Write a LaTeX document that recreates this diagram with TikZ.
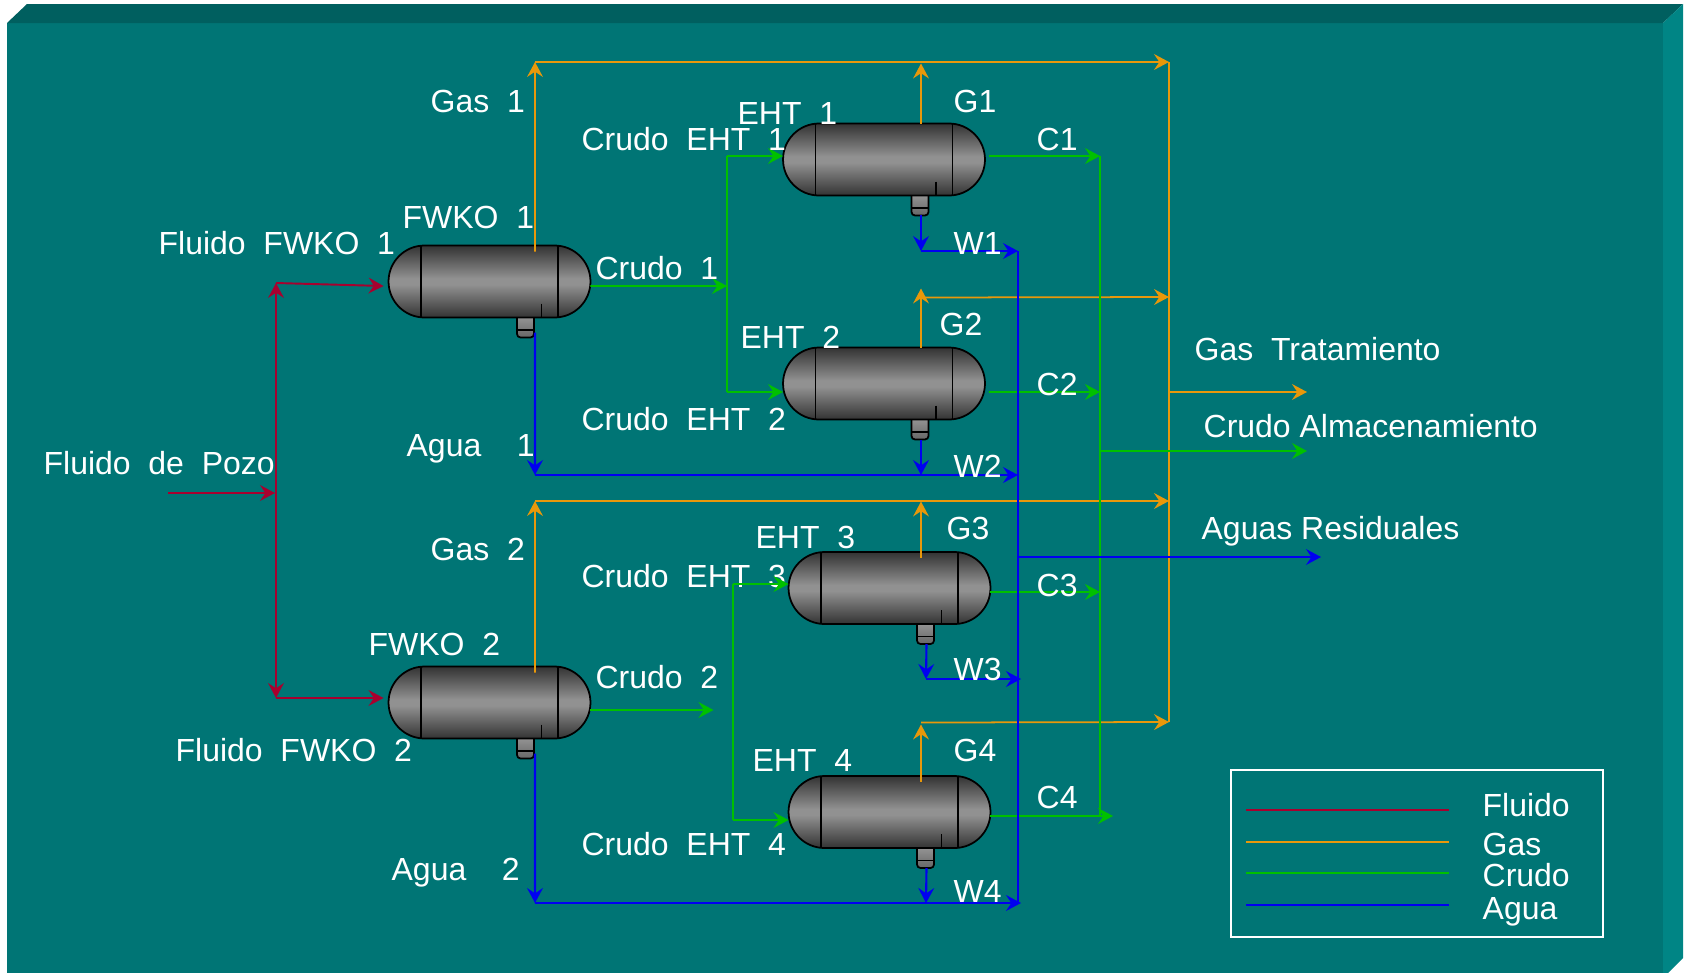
\documentclass[tikz,border=0pt]{standalone}
\usepackage{fontspec}
\setmainfont{Liberation Sans}
\usepackage{tikz}
\usetikzlibrary{arrows.meta, calc, shapes.misc}
\definecolor{facecol}{HTML}{007575}
\definecolor{topcol}{HTML}{005F5F}
\definecolor{sidecol}{HTML}{008585}
\definecolor{fluidcol}{HTML}{A8002E}
\definecolor{gascol}{HTML}{E8980A}
\definecolor{crudecol}{HTML}{00C000}
\definecolor{watercol}{HTML}{0000F0}
\pgfdeclareverticalshading{vesselshade}{100bp}{color(0bp)=(black!80); color(25bp)=(black!80); color(48bp)=(black!43); color(52bp)=(black!43); color(75bp)=(black!80); color(100bp)=(black!80)}
\tikzset{
  tip/.tip={Stealth[length=8.5pt,width=9pt,inset=3pt]},
  fluidline/.style={draw=fluidcol, line width=1.1pt, -tip},
  gasline/.style={draw=gascol, line width=1pt, -tip},
  crudeline/.style={draw=crudecol, line width=1.1pt, -tip},
  waterline/.style={draw=watercol, line width=1.2pt, -tip},
  keyline/.style={line width=1.1pt},
  vessel/.style={rounded rectangle, draw=black, line width=1pt, minimum width=4.04cm, minimum height=1.44cm, inner sep=0pt, outer sep=0pt, shading=vesselshade},
  lbl/.style={anchor=base west, text=white, inner sep=0pt, xshift=-0.4pt, yshift=0.2pt, font=\fontsize{18.2}{20}\selectfont}
}
\begin{document}
\begin{tikzpicture}[x=0.02cm, y=-0.02cm]
\useasboundingbox (0,0) rectangle (1689,972.5);
\fill[facecol] (7,23) rectangle (1663,973);
\fill[topcol] (7,23) -- (27,4) -- (1683,4) -- (1663,23) -- cycle;
\fill[sidecol] (1663,23) -- (1683,4) -- (1683,958) -- (1668,973) -- (1663,973) -- cycle;
\foreach \nm/\cx/\cy in {fwko1/489.5/281.5, fwko2/489.5/702.5, eht1/884/159.5, eht2/884/383.5, eht3/889.5/588, eht4/889.5/812} {
  \begin{scope}[shift={(\cx,\cy)}]
    \draw[black, line width=1pt, top color=black!42, bottom color=black!60, rounded corners=2pt] (27.5,35.5) -- (27.5,56) -- (44.5,56) -- (44.5,35.5);
    \draw[black, line width=0.8pt] (27.5,48.5) -- (44.5,48.5);
    \node[vessel] (\nm) at (0,0) {};
    \draw[black, line width=1pt] (-68.5,-36) -- (-68.5,36) (68.5,-36) -- (68.5,36) (52,22) -- (52,36);
  \end{scope}
}
\node[lbl] (l23) at (582,588) {Crudo\ \ EHT\ \ 3};
\coordinate (pozo) at (168,493);
\coordinate (trunk) at (275,493);
\coordinate (trunktop) at (276,283);
\coordinate (trunkbot) at (276,698);
\draw[fluidline] (pozo) -- (trunk);
\draw[fluidline] (trunk -| trunktop) -- (trunktop);
\draw[fluidline] (trunk -| trunktop) -- (trunkbot);
\draw[fluidline] (trunktop) -- ($(fwko1.west)+(-5,4.5)$);
\draw[fluidline] (trunkbot) -- ($(fwko2.west)+(-5,-4.5)$);
\coordinate (gas1) at (535,62);
\coordinate (gas2) at (535,501);
\coordinate (bus1) at (1169,62);
\coordinate (bus2) at (1169,297);
\coordinate (bus3) at (1169,501);
\coordinate (bus4) at (1169,722);
\coordinate (gasout) at (1307,392);
\draw[gasline] ($(fwko1.north)+(45.5,6)$) -- (gas1);
\draw[gasline] (gas1) -- (bus1);
\draw[gasline] ($(fwko2.north)+(45.5,6)$) -- (gas2);
\draw[gasline] (gas2) -- (bus3);
\draw[gasline] ($(eht1.north)+(37,0)$) -- ($(eht1.north)+(37,-60)$);
\draw[gasline] ($(eht2.north)+(37,0)$) -- ($(eht2.north)+(37,-59)$);
\draw[gasline] ($(eht2.north)+(37,-50)$) -- (bus2);
\draw[gasline] ($(eht3.north)+(31.5,6)$) -- ($(eht3.north)+(31.5,-50.5)$);
\draw[gasline] ($(eht4.north)+(31.5,6)$) -- ($(eht4.north)+(31.5,-51.5)$);
\draw[gasline] ($(eht4.north)+(31.5,-53.5)$) -- (bus4);
\draw[gascol, line width=1pt] (bus1) -- (bus4);
\draw[gasline] (gasout -| bus1) -- (gasout);
\coordinate (hdr1) at (727,286);
\coordinate (oilbus) at (1100,156);
\coordinate (oilout) at (1307,451);
\draw[crudeline] ($(fwko1.east)+(0,4.5)$) -- (hdr1);
\draw[crudecol, line width=1.1pt] (eht1.west -| hdr1) ++(0,-3.5) -- (727,392);
\draw[crudeline] ($(eht1.west)+(-56,-3.5)$) -- ($(eht1.west)+(0,-3.5)$);
\draw[crudeline] ($(eht2.west)+(-56,8.5)$) -- ($(eht2.west)+(0,8.5)$);
\draw[crudeline] ($(fwko2.east)+(0,7.5)$) -- ($(fwko2.east)+(123,7.5)$);
\draw[crudecol, line width=1.1pt] ($(eht3.west)+(-55.5,-4)$) -- ($(eht4.west)+(-55.5,8)$);
\draw[crudeline] ($(eht3.west)+(-55.5,-4)$) -- ($(eht3.west)+(0,-4)$);
\draw[crudeline] ($(eht4.west)+(-55.5,8)$) -- ($(eht4.west)+(0,8)$);
\draw[crudeline] ($(eht1.east)+(4,-3.5)$) -- (oilbus);
\draw[crudeline] ($(eht2.east)+(4,8.5)$) -- (1100,392);
\draw[crudeline] ($(eht3.east)+(-0.5,4)$) -- (1100,592);
\draw[crudeline] ($(eht4.east)+(-0.5,4)$) -- (1113,816);
\draw[crudecol, line width=1.1pt] (oilbus) -- (1100,816);
\draw[crudeline] (oilout -| oilbus) -- (oilout);
\coordinate (wbus1) at (1018,251);
\coordinate (wbus2) at (1018,475);
\coordinate (wbus3) at (1021,679);
\coordinate (wbus4) at (1021,903);
\coordinate (wout) at (1321,557);
\draw[waterline] ($(fwko1.south)+(45.5,15)$) -- (535,475);
\draw[waterline] (535,475) -- (wbus2);
\draw[waterline] ($(fwko2.south)+(45.5,15)$) -- (535,903);
\draw[waterline] (535,903) -- (wbus4);
\draw[waterline] ($(eht1.south)+(37,20)$) -- (921,251);
\draw[waterline] (921,251) -- (wbus1);
\draw[waterline] ($(eht2.south)+(37,20)$) -- (921,475);
\draw[waterline] ($(eht3.south)+(37,20)$) -- (926,679);
\draw[waterline] (926,679) -- (wbus3);
\draw[waterline] ($(eht4.south)+(37,20)$) -- (926,903);
\draw[watercol, line width=1.2pt] (wbus1) -- (1018,903);
\draw[waterline] (wout -| wbus1) -- (wout);
\node[lbl] (l1) at (431,113) {Gas\ \ 1};
\node[lbl] (l2) at (738,125) {EHT\ \ 1};
\node[lbl] (l3) at (954,113) {G1};
\node[lbl] (l4) at (582,151) {Crudo\ \ EHT\ \ 1};
\node[lbl] (l5) at (1037,151) {C1};
\node[lbl] (l6) at (403,229) {FWKO\ \ 1};
\node[lbl] (l7) at (159,255) {Fluido\ \ FWKO\ \ 1};
\node[lbl] (l8) at (954,255) {W1};
\node[lbl] (l9) at (596,280) {Crudo\ \ 1};
\node[lbl] (l10) at (940,336) {G2};
\node[lbl] (l11) at (741,349) {EHT\ \ 2};
\node[lbl] (l12) at (1195,361) {Gas\ \ Tratamiento};
\node[lbl] (l13) at (1037,396) {C2};
\node[lbl] (l14) at (582,431) {Crudo\ \ EHT\ \ 2};
\node[lbl] (l15) at (1204,438) {Crudo Almacenamiento};
\node[lbl] (l16) at (407,457) {Agua\ \ \ \ 1};
\node[lbl] (l17) at (44,475) {Fluido\ \ de\ \ Pozo};
\node[lbl] (l18) at (954,478) {W2};
\node[lbl] (l19) at (1202,540) {Aguas Residuales};
\node[lbl] (l20) at (431,561) {Gas\ \ 2};
\node[lbl] (l21) at (947,540) {G3};
\node[lbl] (l22) at (756,549) {EHT\ \ 3};
\node[lbl] (l24) at (1037,597) {C3};
\node[lbl] (l25) at (369,656) {FWKO\ \ 2};
\node[lbl] (l26) at (596,689) {Crudo\ \ 2};
\node[lbl] (l27) at (954,681) {W3};
\node[lbl] (l28) at (176,762) {Fluido\ \ FWKO\ \ 2};
\node[lbl] (l29) at (954,762) {G4};
\node[lbl] (l30) at (753,772) {EHT\ \ 4};
\node[lbl] (l31) at (1037,809) {C4};
\node[lbl] (l32) at (582,856) {Crudo\ \ EHT\ \ 4};
\node[lbl] (l33) at (392,881) {Agua\ \ \ \ 2};
\node[lbl] (l34) at (954,903) {W4};
\draw[white, line width=0.9pt] (1231,770) rectangle (1603,937);
\foreach \ky/\col/\txt/\ty in {810/fluidcol/Fluido/817, 842/gascol/Gas/856, 873/crudecol/Crudo/887, 905/watercol/Agua/920} {
  \coordinate (k\txt) at (1246,\ky);
  \draw[keyline, \col] (k\txt) -- (1449,\ky);
  \node[lbl] (t\txt) at (1483,\ty) {\txt};
}
\end{tikzpicture}
\end{document}
